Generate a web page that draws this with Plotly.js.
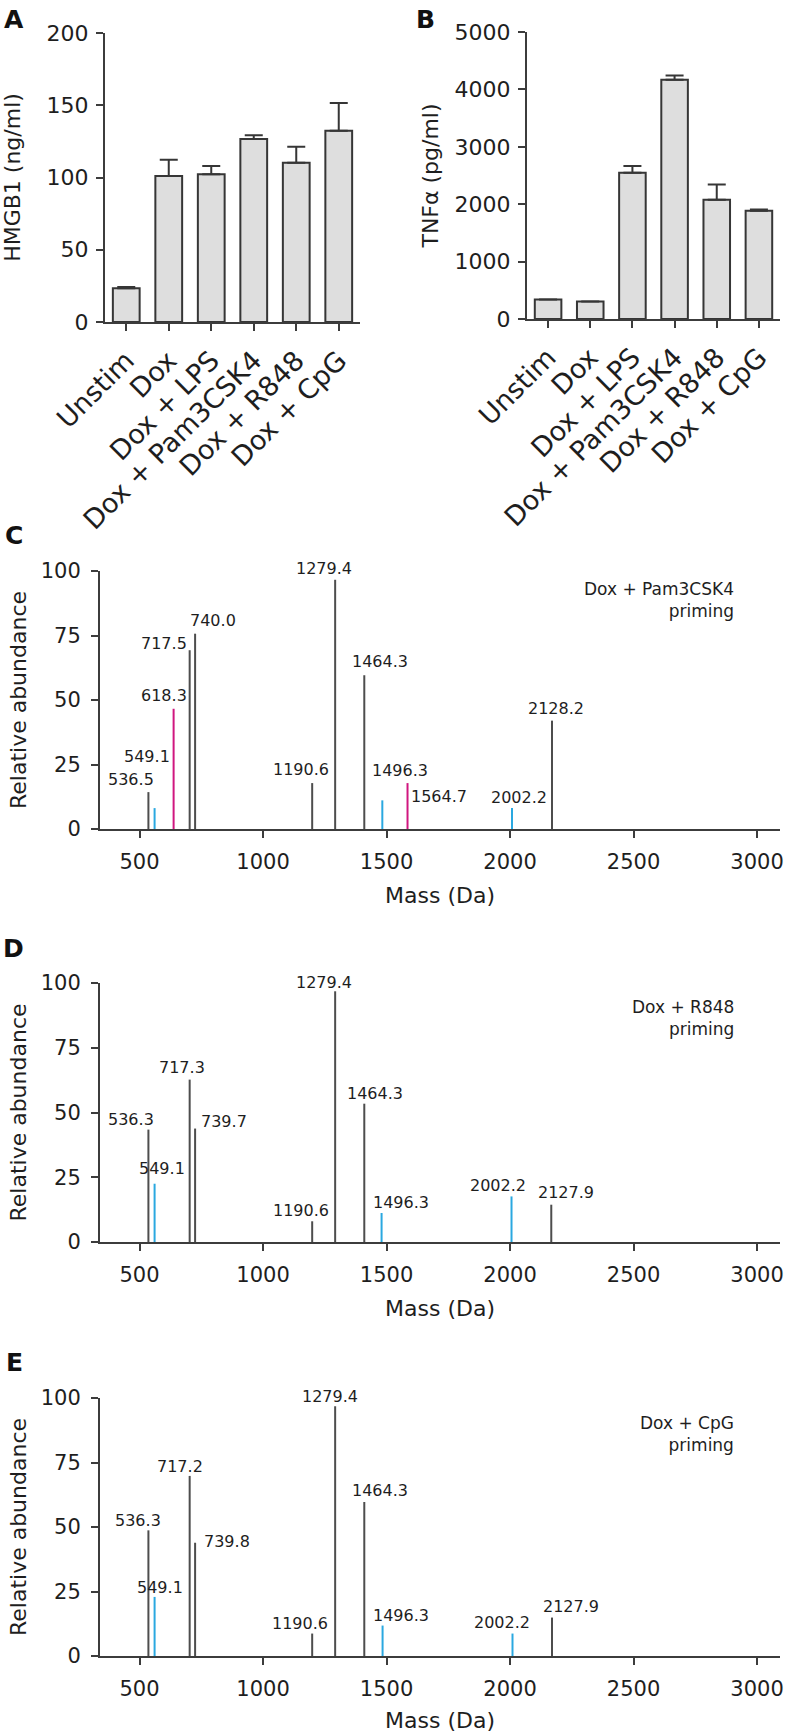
<!DOCTYPE html>
<html><head><meta charset="utf-8">
<script src="https://cdn.plot.ly/plotly-3.0.1.min.js"></script>
<style>html,body{margin:0;padding:0;background:#fff}</style>
</head><body><div id="chart" style="width:787px;height:1733px"></div>
<script>
// ---------- data ----------
const categories = ['Unstim', 'Dox', 'Dox + LPS', 'Dox + Pam3CSK4', 'Dox + R848', 'Dox + CpG'];
const hmgb1 = [23.4, 101.1, 102.3, 126.7, 110.2, 132.3];
const hmgb1Err = [0.8, 11.1, 5.7, 2.5, 11.1, 19.2];
const tnfa = [341, 304, 2548, 4170, 2076, 1884];
const tnfaErr = [0, 0, 116, 74, 266, 24];

const massTicks = [500, 1000, 1500, 2000, 2500, 3000];
const abundTicks = [0, 25, 50, 75, 100];

// Panel C: Dox + Pam3CSK4 priming
const massC = [536, 561, 638, 703, 725, 1199, 1292, 1410, 1483, 1585, 2008, 2170];
const abundC = [14.3, 8.1, 46.6, 69.3, 75.7, 17.8, 96.6, 59.6, 11.1, 17.8, 8.1, 42.0];
const groupC = ['grey', 'cyan', 'magenta', 'grey', 'grey', 'grey', 'grey', 'grey', 'cyan', 'magenta', 'cyan', 'grey'];
const labelC = ['536.5', '549.1', '618.3', '717.5', '740.0', '1190.6', '1279.4', '1464.3', '1496.3', '1564.7', '2002.2', '2128.2'];

// Panel D: Dox + R848 priming
const massD = [536, 561, 703, 725, 1199, 1292, 1410, 1480, 2006, 2167];
const abundD = [43.4, 22.5, 62.7, 43.8, 8.0, 96.8, 53.4, 11.2, 17.6, 14.4];
const groupD = ['grey', 'cyan', 'grey', 'grey', 'grey', 'grey', 'grey', 'cyan', 'cyan', 'grey'];
const labelD = ['536.3', '549.1', '717.3', '739.7', '1190.6', '1279.4', '1464.3', '1496.3', '2002.2', '2127.9'];

// Panel E: Dox + CpG priming
const massE = [536, 561, 703, 725, 1199, 1292, 1410, 1484, 2010, 2170];
const abundE = [48.7, 22.9, 69.8, 43.9, 8.7, 96.8, 59.7, 11.8, 8.7, 14.9];
const groupE = ['grey', 'cyan', 'grey', 'grey', 'grey', 'grey', 'grey', 'cyan', 'cyan', 'grey'];
const labelE = ['536.3', '549.1', '717.2', '739.8', '1190.6', '1279.4', '1464.3', '1496.3', '2002.2', '2127.9'];

// ---------- layout helpers (positions / styles) ----------
const W = 787, H = 1733;
const px = v => v / W;
const py = v => 1 - v / H;
const FONT = 'DejaVu Sans';
const TXT = '#1e1e1e';
const AX = '#3c3c3c';
const groupColor = {grey: '#4d4d4d', cyan: '#2aa8e0', magenta: '#d0167f'};

// label offsets (px) relative to each peak top
const offC = {dx: [-17, -8, -10, -26, 18, -11, -11.5, 16, 17.5, 31, 6.6, 3.8],
              dy: [12.9, 51.9, 13.4, 6.5, 13.4, 13.4, 11, 13.4, 30, -13, 11, 12.6]};
const offD = {dx: [-17, 7.2, -7.4, 29.3, -10.7, -11.3, 10.9, 19, -14, 15.1],
              dy: [9.8, 15.7, 12.6, 7.2, 10.6, 9, 10.6, 10.8, 11.1, 12.6]};
const offE = {dx: [-10.6, 5.2, -9.8, 32.3, -11.7, -4.7, 15.5, 18.5, -10.1, 18.8],
              dy: [10, 9.3, 9.5, 1.3, 9.8, 9.3, 11.6, 10.3, 10.6, 10.6]};

const traces = [];
const annotations = [];

// bar panels
function barTrace(vals, errs, xa, ya) {
  return {
    type: 'bar', x: categories, y: vals, xaxis: xa, yaxis: ya,
    marker: {color: '#dedede', line: {color: '#363636', width: 2}},
    error_y: {type: 'data', array: errs, arrayminus: errs.map(() => 0), symmetric: false,
              visible: true, color: '#363636', thickness: 2, width: 9},
    showlegend: false, hoverinfo: 'x+y'
  };
}
traces.push(barTrace(hmgb1, hmgb1Err, 'x', 'y'));
traces.push(barTrace(tnfa, tnfaErr, 'x2', 'y2'));

// spectra
function stems(mass, ab, grp, g) {
  const x = [], y = [];
  mass.forEach((m, i) => { if (grp[i] === g) { x.push(m, m, null); y.push(0, ab[i], null); } });
  return {x, y};
}
function spectrum(mass, ab, grp, labels, off, xa, ya) {
  ['grey', 'cyan', 'magenta'].forEach(g => {
    const s = stems(mass, ab, grp, g);
    if (!s.x.length) return;
    traces.push({type: 'scatter', mode: 'lines', x: s.x, y: s.y, xaxis: xa, yaxis: ya,
      line: {color: groupColor[g], width: 2}, showlegend: false, hoverinfo: 'skip', cliponaxis: false});
  });
  labels.forEach((t, i) => {
    annotations.push({xref: xa, yref: ya, x: mass[i], y: ab[i], text: t, showarrow: false,
      xanchor: 'center', yanchor: 'middle', xshift: off.dx[i], yshift: off.dy[i],
      font: {family: FONT, size: 16, color: TXT}});
  });
}
spectrum(massC, abundC, groupC, labelC, offC, 'x3', 'y3');
spectrum(massD, abundD, groupD, labelD, offD, 'x4', 'y4');
spectrum(massE, abundE, groupE, labelE, offE, 'x5', 'y5');

// axis styles
const base = {showline: true, linecolor: AX, linewidth: 2, ticks: 'outside', ticklen: 7, tickwidth: 2,
  tickcolor: AX, showgrid: false, zeroline: false, fixedrange: true,
  tickfont: {family: FONT, size: 21, color: TXT}};
function catX(dom, anchor) {
  return Object.assign({}, base, {domain: dom, anchor: anchor, type: 'category', tickangle: -45,
    tickfont: {family: FONT, size: 27, color: TXT}, ticklabelstandoff: 3, range: [-0.5, 5.5]});
}
function valY(dom, anchor, range, dtick, title, standoff) {
  return Object.assign({}, base, {domain: dom, anchor: anchor, range: range, dtick: dtick, tick0: 0,
    tickfont: {family: FONT, size: 22, color: TXT}, ticklabelstandoff: 3,
    title: {text: title, standoff: standoff, font: {family: FONT, size: 22, color: TXT}}});
}
function massX(dom, anchor) {
  return Object.assign({}, base, {domain: dom, anchor: anchor, range: [340, 3093],
    tickvals: massTicks, ticktext: massTicks.map(String), ticklabelstandoff: 6,
    title: {text: 'Mass (Da)', standoff: 14, font: {family: FONT, size: 22, color: TXT}}});
}
function abundY(dom, anchor) {
  return Object.assign({}, base, {domain: dom, anchor: anchor, range: [0, 100],
    tickvals: abundTicks, ticktext: abundTicks.map(String), ticklabelstandoff: 6,
    title: {text: 'Relative abundance', standoff: 8, font: {family: FONT, size: 22, color: TXT}}});
}

// panel letters
[['A', 14, 19], ['B', 425, 19], ['C', 14, 535], ['D', 13, 948], ['E', 14, 1362]].forEach(l => {
  annotations.push({xref: 'paper', yref: 'paper', x: px(l[1]), y: py(l[2]), text: '<b>' + l[0] + '</b>',
    showarrow: false, xanchor: 'center', yanchor: 'middle', font: {family: FONT, size: 25, color: '#111'}});
});
// condition notes
[['Dox + Pam3CSK4<br>priming', 600], ['Dox + R848<br>priming', 1018], ['Dox + CpG<br>priming', 1434]].forEach(n => {
  annotations.push({xref: 'paper', yref: 'paper', x: px(736), y: py(n[1]), text: n[0], showarrow: false,
    xanchor: 'right', yanchor: 'middle', align: 'right', font: {family: FONT, size: 17, color: TXT}});
});

const layout = {
  width: W, height: H, margin: {l: 0, r: 0, t: 0, b: 0},
  paper_bgcolor: '#fff', plot_bgcolor: '#fff', showlegend: false, bargap: 0.37,
  font: {family: FONT, color: TXT},
  xaxis: catX([px(105), px(360)], 'y'),
  yaxis: valY([py(322), py(33)], 'x', [0, 200], 50, 'HMGB1 (ng/ml)', 22),
  xaxis2: catX([px(527), px(780)], 'y2'),
  yaxis2: valY([py(319), py(32)], 'x2', [0, 5000], 1000, 'TNFα (pg/ml)', 10),
  xaxis3: massX([px(100), px(780)], 'y3'),
  yaxis3: abundY([py(829), py(571)], 'x3'),
  xaxis4: massX([px(100), px(780)], 'y4'),
  yaxis4: abundY([py(1242), py(983)], 'x4'),
  xaxis5: massX([px(100), px(780)], 'y5'),
  yaxis5: abundY([py(1656), py(1398)], 'x5'),
  annotations: annotations
};

Plotly.newPlot('chart', traces, layout, {displayModeBar: false, staticPlot: true});
</script>
</body></html>
